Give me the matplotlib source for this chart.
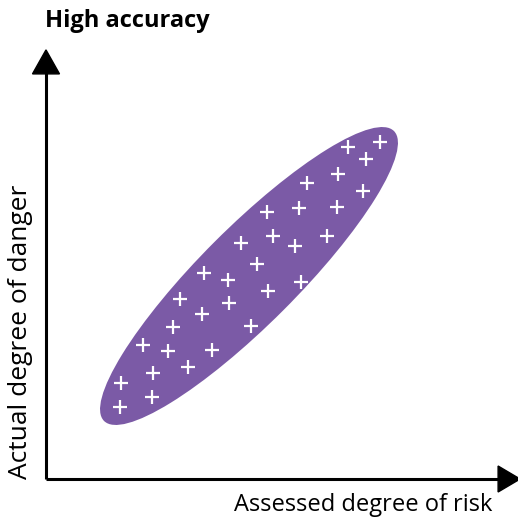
#!/usr/bin/env python
"""High accuracy: assessed risk vs actual danger, points clustered tightly in an ellipse."""
import matplotlib

matplotlib.use("Agg")
import matplotlib.pyplot as plt
from matplotlib.patches import Ellipse, FancyArrow

PURPLE = "#7b5aa6"

# assessed / actual values of each case (axis units, origin at the axes corner)
assessed = [334, 302, 320, 292, 261, 317, 221, 253, 291, 195, 227, 249, 281,
            158, 182, 211, 255, 134, 222, 183, 156, 127, 205, 97, 122, 166,
            107, 142, 75, 106, 74]
actual = [337, 332, 320, 305, 296, 288, 267, 271, 272, 236, 243, 233, 243,
          206, 199, 215, 197, 180, 188, 176, 165, 152, 153, 134, 128, 129,
          106, 112, 96, 82, 72]

fig = plt.figure(figsize=(5.18, 5.21), dpi=100)
ax = fig.add_axes([0, 0, 1, 1])
ax.set_xlim(-46, 472)
ax.set_ylim(-42, 479)
ax.axis("off")

# tight cloud around the diagonal
ax.add_patch(Ellipse((203, 203), 410, 97, angle=45, facecolor=PURPLE, edgecolor="none", zorder=1))
ax.plot(assessed, actual, "+", color="white", markersize=9.5, markeredgewidth=1.6, zorder=2)

# axes arrows
ax.plot([0, 0], [0, 410], color="black", lw=2.2, solid_capstyle="butt")
ax.plot([0, 455], [0, 0], color="black", lw=2.2, solid_capstyle="butt")
ax.add_patch(FancyArrow(0, 405, 0, 0.1, width=0, head_width=27, head_length=24,
                        length_includes_head=False, color="black"))
ax.add_patch(FancyArrow(452, 0, 0.1, 0, width=0, head_width=26, head_length=22,
                        length_includes_head=False, color="black"))

ax.text(-1, 458, "High accuracy", fontsize=17, fontweight="bold", family="Open Sans",
        ha="left", va="center")
ax.text(446, -26, "Assessed degree of risk", fontsize=17, family="Open Sans",
        ha="right", va="center")
ax.text(-25, 0, "Actual degree of danger", fontsize=19, family="Open Sans",
        rotation=90, ha="center", va="bottom")

fig.savefig("out.png", dpi=100, facecolor="white")
